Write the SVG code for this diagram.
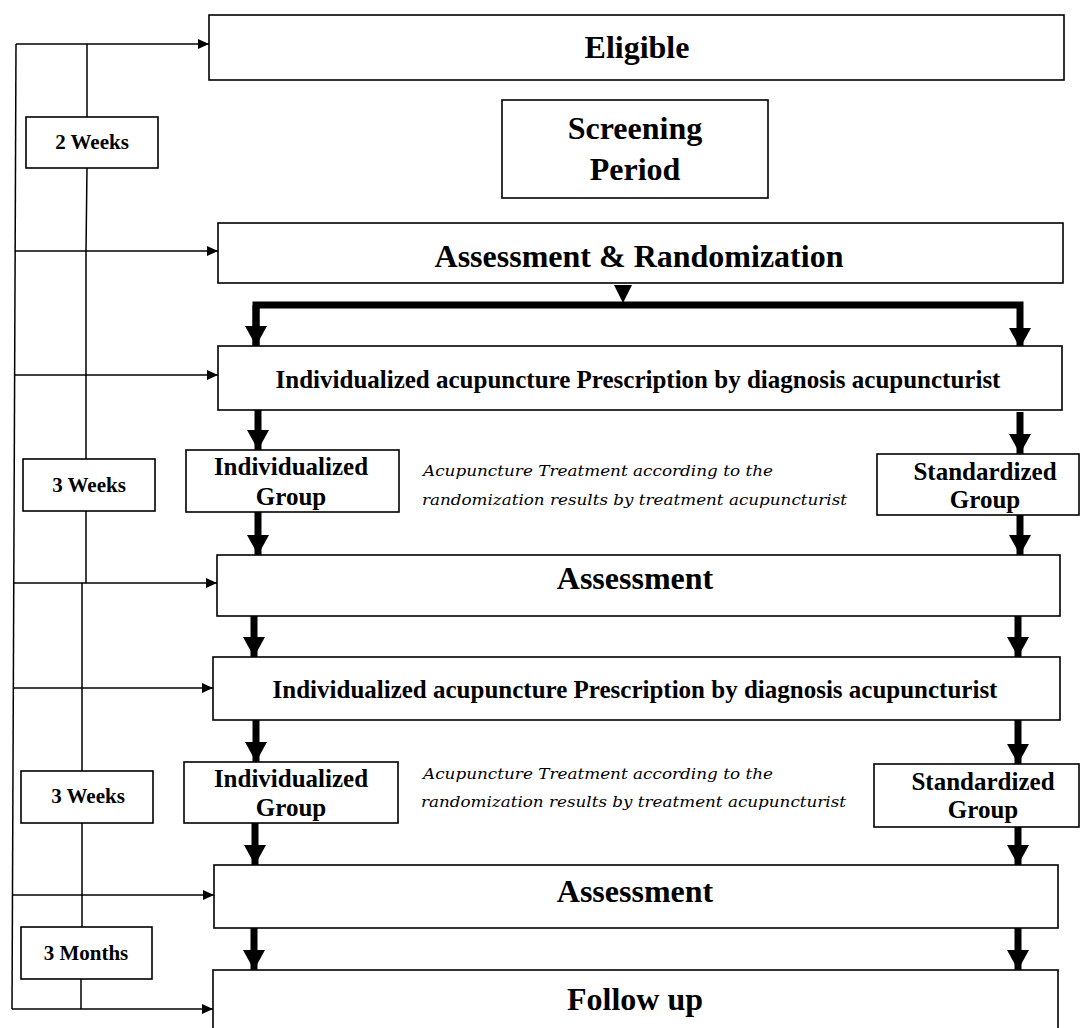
<svg xmlns="http://www.w3.org/2000/svg" width="1080" height="1028" viewBox="0 0 1080 1028">
<style>
.box{fill:#fff;stroke:#000;stroke-width:1.6}
.t{font-family:"Liberation Serif","Times New Roman",serif;font-weight:bold;fill:#000;text-anchor:middle}
.big{font-size:32px}
.mid{font-size:25px}
.sm{font-size:21px}
.it{font-family:"DejaVu Serif","Liberation Serif",serif;font-style:italic;font-size:15.5px;fill:#000}
.thin{fill:none;stroke:#000;stroke-width:1.5}
.thick{fill:none;stroke:#000;stroke-width:7}
</style>
<defs>
<marker id="ah" markerUnits="userSpaceOnUse" markerWidth="12" markerHeight="10" refX="11" refY="5" orient="auto">
<path d="M0,0 L11,5 L0,10 Z" fill="#000"/>
</marker>
<marker id="th" markerUnits="userSpaceOnUse" markerWidth="20" markerHeight="22" refX="20" refY="11" orient="auto">
<path d="M0,0 L20,11 L0,22 Z" fill="#000"/>
</marker>
</defs>

<g id="connectors">
<path class="thin" d="M16,44 L12,1009"/>
<path class="thin" d="M16,44 L209,44" marker-end="url(#ah)"/>
<path class="thin" d="M15,251 L218,251" marker-end="url(#ah)"/>
<path class="thin" d="M15,375 L218,375" marker-end="url(#ah)"/>
<path class="thin" d="M14,583 L217,583" marker-end="url(#ah)"/>
<path class="thin" d="M13,688 L213,688" marker-end="url(#ah)"/>
<path class="thin" d="M13,895 L214,895" marker-end="url(#ah)"/>
<path class="thin" d="M12,1009 L213,1009" marker-end="url(#ah)"/>
<path class="thin" d="M87,44 L87,117 M87,168 L86,251 M86,251 L86,459 M86,511 L86,583 M82,583 L82,771 M82,823 L82,927 M81,979 L81,1009"/>

<path class="thick" d="M256,346 L256,305 L1020,305 L1020,348" marker-end="url(#th)"/>
<path class="thick" d="M256,305 L256,346" marker-end="url(#th)"/>
<path d="M614,285 L632,285 L623,303 Z" fill="#000"/>
<path class="thick" d="M258,410 L258,450" marker-end="url(#th)"/>
<path class="thick" d="M1020,412 L1020,454" marker-end="url(#th)"/>
<path class="thick" d="M258,512 L258,555" marker-end="url(#th)"/>
<path class="thick" d="M1020,515 L1020,555" marker-end="url(#th)"/>
<path class="thick" d="M254,616 L254,657" marker-end="url(#th)"/>
<path class="thick" d="M1018,616 L1018,657" marker-end="url(#th)"/>
<path class="thick" d="M256,720 L256,762" marker-end="url(#th)"/>
<path class="thick" d="M1018,720 L1018,764" marker-end="url(#th)"/>
<path class="thick" d="M255,823 L255,865" marker-end="url(#th)"/>
<path class="thick" d="M1018,827 L1018,865" marker-end="url(#th)"/>
<path class="thick" d="M254,928 L254,970" marker-end="url(#th)"/>
<path class="thick" d="M1018,928 L1018,970" marker-end="url(#th)"/>
</g>

<g id="eligible"><rect class="box" x="209" y="15" width="855" height="65"/><text class="t big" x="637" y="58">Eligible</text></g>
<g id="screening"><rect class="box" x="502" y="100" width="266" height="98"/><text class="t big" x="635" y="139">Screening</text><text class="t big" x="635" y="180">Period</text></g>
<g id="assess-rand"><rect class="box" x="218" y="223" width="845" height="60"/><text class="t big" x="639" y="267">Assessment &amp; Randomization</text></g>
<g id="prescription1"><rect class="box" x="218" y="346" width="844" height="64"/><text class="t mid" x="638" y="388">Individualized acupuncture Prescription by diagnosis acupuncturist</text></g>
<g id="week2"><rect class="box" x="26" y="117" width="132" height="51"/><text class="t sm" x="92" y="149">2 Weeks</text></g>
<g id="week3a"><rect class="box" x="23" y="459" width="132" height="52"/><text class="t sm" x="89" y="492">3 Weeks</text></g>
<g id="indiv1"><rect class="box" x="186" y="450" width="213" height="62"/><text class="t mid" x="291" y="475">Individualized</text><text class="t mid" x="291" y="505">Group</text></g>
<g id="note1"><text class="it" x="423" y="476" textLength="350" lengthAdjust="spacingAndGlyphs">Acupuncture Treatment according to the</text><text class="it" x="422" y="505" textLength="425" lengthAdjust="spacingAndGlyphs">randomization results by treatment acupuncturist</text></g>
<g id="std1"><rect class="box" x="877" y="454" width="202" height="61"/><text class="t mid" x="985" y="480">Standardized</text><text class="t mid" x="985" y="508">Group</text></g>
<g id="assess1"><rect class="box" x="217" y="555" width="843" height="61"/><text class="t big" x="635" y="589">Assessment</text></g>
<g id="prescription2"><rect class="box" x="213" y="657" width="847" height="63"/><text class="t mid" x="635" y="698">Individualized acupuncture Prescription by diagnosis acupuncturist</text></g>
<g id="week3b"><rect class="box" x="21" y="771" width="132" height="52"/><text class="t sm" x="88" y="803">3 Weeks</text></g>
<g id="indiv2"><rect class="box" x="184" y="762" width="214" height="61"/><text class="t mid" x="291" y="787">Individualized</text><text class="t mid" x="291" y="816">Group</text></g>
<g id="note2"><text class="it" x="423" y="779" textLength="350" lengthAdjust="spacingAndGlyphs">Acupuncture Treatment according to the</text><text class="it" x="421" y="807" textLength="425" lengthAdjust="spacingAndGlyphs">randomization results by treatment acupuncturist</text></g>
<g id="std2"><rect class="box" x="874" y="764" width="205" height="63"/><text class="t mid" x="983" y="790">Standardized</text><text class="t mid" x="983" y="818">Group</text></g>
<g id="assess2"><rect class="box" x="214" y="865" width="844" height="63"/><text class="t big" x="635" y="902">Assessment</text></g>
<g id="months3"><rect class="box" x="21" y="927" width="131" height="52"/><text class="t sm" x="86" y="960">3 Months</text></g>
<g id="followup"><rect class="box" x="213" y="970" width="845" height="70"/><text class="t big" x="635" y="1010">Follow up</text></g>
</svg>
